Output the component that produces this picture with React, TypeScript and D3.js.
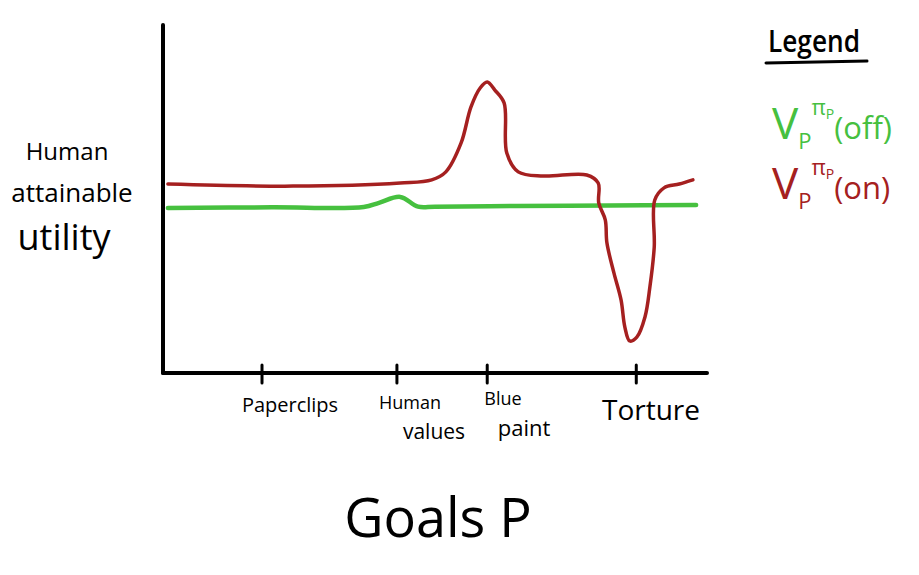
import React from "react";
import * as d3 from "d3";

// Goal-space position (0..100) and human attainable utility (0..100)
const offX = [0.9, 20.0, 36.9, 39.7, 43.6, 46.9, 50.0, 65.0, 82.0, 98.0];
const offY = [47.4, 47.6, 47.7, 48.9, 50.6, 47.8, 47.8, 48.0, 48.1, 48.3];

const onX = [0.9, 23.9, 43.6, 49.4, 52.0, 54.8, 56.6, 58.3, 59.6, 61.0, 62.7, 63.2, 65.3, 69.9, 77.9, 80.0, 80.1, 81.3, 81.6, 82.9, 84.2, 84.9, 85.8, 87.1, 88.6, 89.5, 90.3, 90.4, 92.1, 94.9, 97.4];
const onY = [54.3, 53.7, 54.6, 55.5, 57.8, 66.1, 76.4, 81.9, 83.6, 81.3, 77.6, 63.2, 57.8, 56.6, 56.9, 54.6, 48.9, 44.0, 37.4, 28.7, 21.0, 13.2, 9.2, 10.3, 16.1, 24.7, 36.2, 49.7, 53.2, 54.3, 55.5];

const tickPos = [18.2, 43.0, 59.6, 87.0];
const tickLabels = [["Paperclips"], ["Human", "values"], ["Blue", "paint"], ["Torture"]];

const W = 919, H = 575;
const font = "'Open Sans', 'DejaVu Sans', sans-serif";

export default function App() {
  const x = d3.scaleLinear().domain([0, 100]).range([163, 707]);
  const y = d3.scaleLinear().domain([0, 100]).range([373, 25]);
  const line = d3.line<[number, number]>().x(d => x(d[0])).y(d => y(d[1])).curve(d3.curveCatmullRom.alpha(0.5));
  const offPts = offX.map((v, i) => [v, offY[i]] as [number, number]);
  const onPts = onX.map((v, i) => [v, onY[i]] as [number, number]);
  const green = "#46c03f";
  const red = "#a52020";
  return (
    <svg width={W} height={H} style={{ position: "absolute", left: 0, top: 0, background: "#fff" }} fontFamily={font}>
      <rect width={W} height={H} fill="#fff" />
      {/* axes */}
      <line x1={x(0)} y1={y(100)} x2={x(0)} y2={y(0)} stroke="#000" strokeWidth={4} strokeLinecap="round" />
      <line x1={x(0)} y1={y(0)} x2={x(100)} y2={y(0)} stroke="#000" strokeWidth={4} strokeLinecap="round" />
      {tickPos.map((t, i) => (
        <line key={i} x1={x(t)} x2={x(t)} y1={y(0) - 8} y2={y(0) + 10} stroke="#000" strokeWidth={3} strokeLinecap="round" />
      ))}
      {/* tick labels */}
      <text x={290} y={412} fontSize={20} textAnchor="middle" fill="#000">{tickLabels[0][0]}</text>
      <text x={410} y={409} fontSize={18} textAnchor="middle" fill="#000">{tickLabels[1][0]}</text>
      <text x={434} y={439} fontSize={21} textAnchor="middle" fill="#000">{tickLabels[1][1]}</text>
      <text x={503} y={405} fontSize={18} textAnchor="middle" fill="#000">{tickLabels[2][0]}</text>
      <text x={524} y={436} fontSize={22} textAnchor="middle" fill="#000">{tickLabels[2][1]}</text>
      <text x={651} y={420} fontSize={28} textAnchor="middle" fill="#000">{tickLabels[3][0]}</text>
      {/* axis titles */}
      <text x={67} y={160} fontSize={24} textAnchor="middle" fill="#000">Human</text>
      <text x={72} y={202} fontSize={26} textAnchor="middle" fill="#000">attainable</text>
      <text x={64} y={250} fontSize={36} textAnchor="middle" fill="#000">utility</text>
      <text x={438} y={537} fontSize={54} textAnchor="middle" fill="#000">Goals P</text>
      {/* series */}
      <path d={line(offPts) || ""} fill="none" stroke={green} strokeWidth={4.5} strokeLinecap="round" />
      <path d={line(onPts) || ""} fill="none" stroke={red} strokeWidth={3.5} strokeLinecap="round" strokeLinejoin="round" />
      {/* legend */}
      <text x={814} y={52} fontSize={31} fontWeight="600" textAnchor="middle" fill="#000" textLength={92} lengthAdjust="spacingAndGlyphs">Legend</text>
      <line x1={766} y1={63} x2={867} y2={61} stroke="#000" strokeWidth={3} strokeLinecap="round" />
      <text x={772} y={139} fontSize={44} fill={green}>
        V<tspan fontSize={22} dy={10}>P</tspan><tspan fontSize={22} dy={-34}>π</tspan><tspan fontSize={14} dy={4}>P</tspan><tspan fontSize={31} dy={20}>(off)</tspan>
      </text>
      <text x={772} y={199} fontSize={44} fill={red}>
        V<tspan fontSize={22} dy={10}>P</tspan><tspan fontSize={22} dy={-34}>π</tspan><tspan fontSize={14} dy={4}>P</tspan><tspan fontSize={31} dy={20}>(on)</tspan>
      </text>
    </svg>
  );
}
